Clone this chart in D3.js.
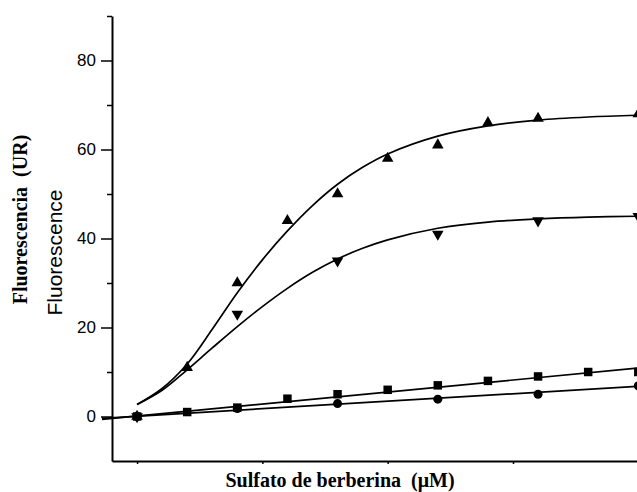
<!DOCTYPE html>
<html>
<head>
<meta charset="utf-8">
<script src="https://cdn.jsdelivr.net/npm/d3@7"></script>
<style>
	body { margin: 0; background: #fff; }
	svg { display: block; }
</style>
</head>
<body>
<div id="container"></div>
<script>
var width = 637, height = 492;

// measured points (x in uM, y in UR)
var upX = [0, 2, 4, 6, 8, 10, 12, 14, 16, 20];
var upY = [0, 11, 30, 44, 50, 58, 61, 66, 67, 68];
var downX = [0, 4, 8, 12, 16, 20];
var downY = [0, 23, 35, 41, 44, 45];
var sqX = [0, 2, 4, 6, 8, 10, 12, 14, 16, 18, 20];
var sqY = [0, 1, 2, 4, 5, 6, 7, 8, 9, 10, 10];
var ciX = [0, 4, 8, 12, 16, 20];
var ciY = [0, 1.8, 2.9, 3.9, 5, 6.9];

// fitted curves
var upFitX = [0, 1, 2, 3, 4, 5, 6, 7, 8, 9, 10, 12, 14, 16, 18, 20];
var upFitY = [2.7, 6.3, 11.8, 19.6, 27.8, 35.2, 41.7, 47.4, 52.2, 56, 59, 63, 65.3, 66.6, 67.3, 67.7];
var downFitX = [0, 1, 2, 3, 4, 5, 6, 7, 8, 9, 10, 12, 14, 16, 18, 20];
var downFitY = [2.7, 5.9, 10.5, 15.4, 20.2, 24.7, 28.8, 32.4, 35.4, 37.8, 39.7, 42.3, 43.7, 44.4, 44.8, 45];
var sqFitX = [-1.4, 20];
var sqFitY = [-0.65, 10.9];
var ciFitX = [-1.4, 20];
var ciFitY = [-0.4, 6.8];

var yMajor = [0, 20, 40, 60, 80];
var yMinor = [10, 30, 50, 70, 90];
var xTicks = [0, 5, 10, 15, 20];

var xScale = d3.scaleLinear().domain([-1, 20]).range([112, 638.3]);
var yScale = d3.scaleLinear().domain([-10, 90]).range([461, 16]);

var pairs = function(xs, ys) {
	return xs.map(function(x, i) { return {x: x, y: ys[i]}; });
};

var svg = d3.select('#container').append('svg')
	.attr('width', width)
	.attr('height', height);

// axes
var yMinorAxis = d3.axisLeft(yScale).tickValues(yMinor).tickSize(5).tickFormat('');
svg.append('g')
	.attr('transform', 'translate(112,0)')
	.call(yMinorAxis)
	.call(function(g) { g.select('.domain').remove(); })
	.selectAll('line').attr('stroke-width', 1.5);

var yAxis = d3.axisLeft(yScale).tickValues(yMajor).tickSizeInner(11).tickSizeOuter(0).tickPadding(5);
var gy = svg.append('g')
	.attr('transform', 'translate(112,0)')
	.call(yAxis);
gy.select('.domain').attr('stroke-width', 2);
gy.selectAll('line').attr('stroke-width', 1.5);
gy.selectAll('text')
	.attr('font-family', 'Liberation Sans, Arial, sans-serif')
	.attr('font-size', 17)
	.attr('fill', '#000');

var xAxis = d3.axisBottom(xScale).tickValues(xTicks).tickSizeInner(3).tickSizeOuter(0).tickFormat('');
var gx = svg.append('g')
	.attr('transform', 'translate(0,461)')
	.call(xAxis);
gx.select('.domain').attr('stroke-width', 2);
gx.selectAll('line').attr('stroke-width', 1.5);

// fitted lines
var line = d3.line()
	.x(function(d) { return xScale(d.x); })
	.y(function(d) { return yScale(d.y); })
	.curve(d3.curveCatmullRom);

[[upFitX, upFitY], [downFitX, downFitY], [sqFitX, sqFitY], [ciFitX, ciFitY]].forEach(function(s) {
	svg.append('path')
		.attr('d', line(pairs(s[0], s[1])))
		.attr('fill', 'none')
		.attr('stroke', '#000')
		.attr('stroke-width', 1.7);
});

// markers
var drawMarkers = function(xs, ys, type, size, rot) {
	svg.append('g').selectAll('path').data(pairs(xs, ys)).enter()
		.append('path')
		.attr('d', d3.symbol().type(type).size(size))
		.attr('transform', function(d) {
			return 'translate(' + xScale(d.x) + ',' + yScale(d.y) + ') rotate(' + rot + ')';
		})
		.attr('fill', '#000');
};

drawMarkers(ciX, ciY, d3.symbolCircle, 64, 0);
drawMarkers(sqX, sqY, d3.symbolSquare, 72, 0);
drawMarkers(downX, downY, d3.symbolTriangle, 58, 180);
drawMarkers(upX, upY, d3.symbolTriangle, 58, 0);

// labels
svg.append('text')
	.attr('x', 340)
	.attr('y', 487)
	.attr('text-anchor', 'middle')
	.attr('font-family', 'Liberation Serif, Times New Roman, serif')
	.attr('font-weight', 'bold')
	.attr('font-size', 20)
	.attr('xml:space', 'preserve')
	.text('Sulfato de berberina  (\u03bcM)');

svg.append('text')
	.attr('transform', 'translate(26.5,219.5) rotate(-90)')
	.attr('text-anchor', 'middle')
	.attr('font-family', 'Liberation Serif, Times New Roman, serif')
	.attr('font-weight', 'bold')
	.attr('font-size', 20)
	.attr('xml:space', 'preserve')
	.text('Fluorescencia  (UR)');

svg.append('text')
	.attr('transform', 'translate(62,252.5) rotate(-90)')
	.attr('text-anchor', 'middle')
	.attr('font-family', 'Liberation Sans, Arial, sans-serif')
	.attr('font-size', 21)
	.text('Fluorescence');
</script>
</body>
</html>
